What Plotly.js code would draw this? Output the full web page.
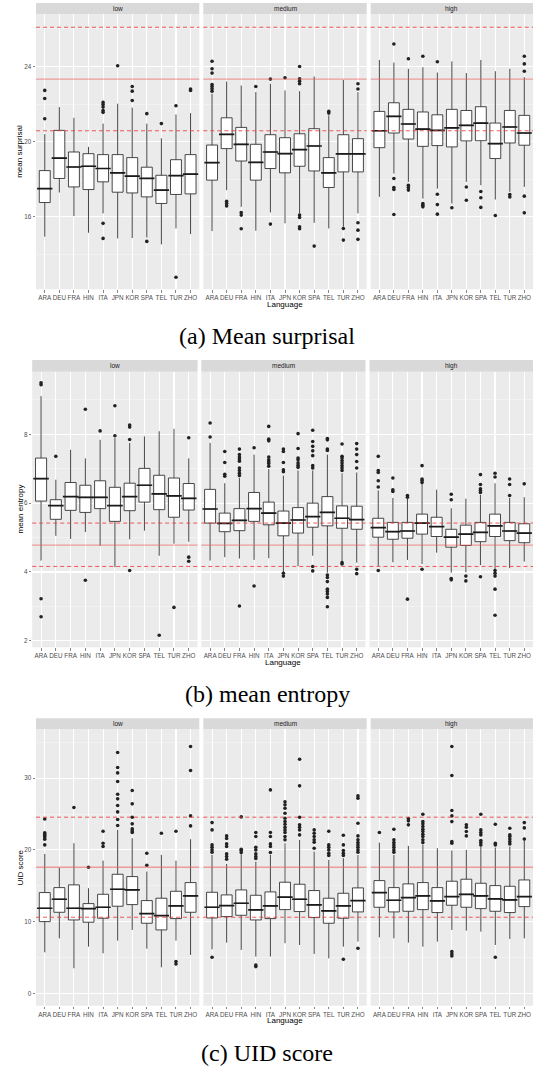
<!DOCTYPE html>
<html><head><meta charset="utf-8">
<script src="https://cdn.plot.ly/plotly-3.0.1.min.js"></script>
<style>html,body{margin:0;padding:0;background:#fff}#chart{width:534px;height:1070px}</style>
</head><body><div id="chart"></div>
<script>
const languages = ['ARA','DEU','FRA','HIN','ITA','JPN','KOR','SPA','TEL','TUR','ZHO'];
const facetNames = ['low','medium','high'];

// ---------- (a) Mean surprisal ----------
const a_refs = [26.09, 23.33, 20.58];
const a_low_lower = [14.94,17.29,16.04,15.15,16.18,14.85,14.87,14.90,14.53,15.38,15.08];
const a_low_q1    = [16.76,18.04,17.59,17.45,17.86,17.31,17.27,17.06,16.71,17.19,17.22];
const a_low_med   = [17.50,19.12,18.65,18.69,18.57,18.34,18.16,18.04,17.42,18.19,18.27];
const a_low_q3    = [18.46,20.60,19.45,19.36,19.31,19.31,19.15,18.64,18.21,19.04,19.31];
const a_low_upper = [20.40,21.84,21.27,19.72,20.96,22.02,21.81,20.96,20.18,21.45,21.52];
const a_low_out   = [[22.73,22.30,21.22],[],[],[],[22.09,21.98,21.84,21.66,21.56,15.65,14.85],[24.04],[22.94,22.69,22.19],[21.49,14.69],[20.96],[21.91,12.78],[22.80,22.73]];

const a_med_lower = [15.24,17.42,16.53,15.26,16.23,15.65,16.18,15.68,15.38,15.47,16.18];
const a_med_q1    = [17.95,19.63,18.97,17.95,18.57,18.34,18.69,18.44,17.56,18.39,18.39];
const a_med_med   = [18.88,20.39,19.86,18.90,19.45,19.36,19.58,19.77,18.34,19.35,19.35];
const a_med_q3    = [19.82,21.27,20.76,19.86,20.37,20.21,20.42,20.69,19.15,20.37,20.16];
const a_med_upper = [22.55,23.20,22.99,22.64,23.08,22.73,22.69,23.47,21.40,23.29,22.64];
const a_med_out   = [[24.28,23.88,23.65,23.04,22.94,22.81,22.69],[16.83,16.71,16.58],[16.23,16.09,15.36],[22.94],[23.33,15.61],[23.40],[24.0,23.35,23.22,23.08,16.09,15.96,15.47,15.36],[14.44],[21.61,21.52],[15.38,14.76],[23.08,22.80,15.68,15.29,14.80]];

const a_high_lower = [17.06,18.30,17.86,16.97,17.50,16.71,17.86,17.68,16.92,17.33,17.59];
const a_high_q1    = [19.68,20.46,20.14,19.75,19.79,19.72,20.04,20.05,19.10,19.93,19.81];
const a_high_med   = [20.58,21.35,20.94,20.67,20.60,20.73,20.87,20.99,19.89,20.78,20.46];
const a_high_q3    = [21.61,22.07,21.72,21.58,21.43,21.72,21.66,21.86,20.99,21.66,21.40];
const a_high_upper = [24.35,24.21,23.88,23.96,23.68,24.27,23.65,24.35,23.75,23.88,23.43];
const a_high_out   = [[],[25.20,18.04,17.56,17.45,16.12],[24.41,17.68,17.56,17.42],[24.55,16.71,16.62,16.53],[24.25,17.20,16.65,16.14],[16.48],[17.59,16.88],[17.35,17.01,16.50],[16.07],[17.19,17.06],[24.55,24.14,23.75,17.10,16.21]];

// ---------- (b) mean entropy ----------
const b_refs = [5.42, 4.78, 4.16];
const b_low_lower = [4.33,5.05,4.96,5.16,4.76,4.14,4.95,5.20,4.47,4.82,4.88];
const b_low_q1    = [6.06,5.53,5.79,5.73,5.84,5.47,5.78,6.03,5.81,5.59,5.80];
const b_low_med   = [6.71,5.93,6.19,6.17,6.17,5.93,6.19,6.52,6.27,6.21,6.14];
const b_low_q3    = [7.31,6.10,6.60,6.52,6.65,6.46,6.58,7.01,6.81,6.73,6.57];
const b_low_upper = [9.11,6.68,7.55,7.30,7.84,7.89,7.75,7.94,8.09,8.16,7.30];
const b_low_out   = [[9.50,9.44,3.22,2.70],[7.36],[],[8.73,3.76],[8.10],[8.83,7.96],[8.27,8.21,7.85,4.04],[],[2.16],[2.97],[7.90,4.43,4.31]];

const b_med_lower = [4.33,4.43,4.39,4.35,4.40,3.98,4.17,4.47,3.98,4.30,4.27];
const b_med_q1    = [5.42,5.17,5.20,5.47,5.37,5.05,5.13,5.30,5.34,5.27,5.24];
const b_med_med   = [5.83,5.41,5.50,5.84,5.71,5.42,5.51,5.61,5.73,5.56,5.52];
const b_med_q3    = [6.40,5.71,5.84,6.31,6.03,5.77,5.87,6.00,6.19,5.92,5.91];
const b_med_upper = [7.75,6.58,6.73,7.41,6.99,6.80,6.95,6.95,7.41,6.87,6.89];
const b_med_out   = [[8.33,7.92],[7.50,7.18,6.84,6.78],[7.57,7.41,7.34,7.28,7.22,7.02,6.95,6.87,6.80,3.01],[7.61,3.59],[8.23,7.86,7.81,7.34,7.26,7.20,7.15,7.07],[7.57,7.50,7.18,6.97,6.91,3.96,3.88],[8.02,7.59,7.31,7.26,7.17,7.10,7.04],[8.12,7.79,7.65,7.52,7.38,7.09,7.02,4.16,4.03],[7.88,7.84,7.57,7.53,3.91,3.84,3.72,3.50,3.43,3.36,3.26,2.99],[7.72,7.36,7.31,7.24,7.17,7.09,7.02,6.95,4.27,4.23],[7.73,7.57,7.41,7.21,7.02,4.08,3.95]];

const b_high_lower = [4.17,4.28,4.35,4.23,4.56,3.98,3.99,4.20,4.08,4.11,4.30];
const b_high_q1    = [5.01,4.95,4.98,5.10,5.03,4.72,4.77,4.88,5.03,4.91,4.85];
const b_high_med   = [5.29,5.17,5.19,5.42,5.32,5.01,5.10,5.15,5.34,5.19,5.13];
const b_high_q3    = [5.56,5.44,5.44,5.68,5.59,5.24,5.36,5.44,5.68,5.44,5.40];
const b_high_upper = [6.37,6.15,6.12,6.56,6.39,5.85,6.13,6.24,6.58,6.15,6.17];
const b_high_out   = [[7.36,6.95,6.89,6.65,6.47,4.04],[6.73,6.39,6.34],[6.22,6.17,3.21],[7.09,6.70,6.66,6.60,4.08],[],[6.26,6.10,3.81,3.77],[3.88,3.74],[6.83,6.54,6.42,6.37,6.31,3.86],[6.87,6.76,4.04,3.96,3.88,3.50,2.74],[6.70,6.54,6.22],[6.56]];

// ---------- (c) UID score ----------
const c_refs = [24.56, 17.59, 10.61];
const c_low_lower = [5.72,7.67,3.49,6.51,5.58,7.35,8.84,6.23,3.63,7.35,5.35];
const c_low_q1    = [10.00,11.30,10.23,9.91,10.47,12.14,12.37,9.77,8.84,10.42,11.30];
const c_low_med   = [11.86,13.12,11.86,11.81,12.00,14.51,14.42,11.12,10.84,12.19,13.58];
const c_low_q3    = [14.05,14.74,15.12,12.51,13.81,16.60,16.28,12.93,13.26,14.23,15.44];
const c_low_upper = [19.44,17.53,20.93,14.65,18.51,22.79,21.63,16.98,19.30,18.51,21.49];
const c_low_out   = [[24.3,22.4,22.2,22.0,21.8,21.5,20.7],[],[25.91],[17.58],[22.60,20.93,20.47],[33.58,31.49,30.74,29.53,27.77,27.12,26.19,25.30,24.23,23.40],[28.28,26.42,24.56,23.63,22.93,22.65,22.42],[19.53,17.86],[22.33],[22.60,4.42,4.09],[34.42,31.07,24.74,23.35]];

const c_med_lower = [6.14,7.07,6.05,5.12,5.12,6.98,6.74,5.49,4.88,6.51,7.21];
const c_med_q1    = [10.51,10.70,10.88,10.23,10.42,11.67,11.40,10.56,9.77,10.47,11.35];
const c_med_med   = [12.00,12.23,12.56,11.63,12.19,13.40,13.12,12.33,11.49,12.19,12.93];
const c_med_q3    = [14.09,13.72,14.42,13.67,14.14,15.49,15.21,14.33,13.26,13.95,14.70];
const c_med_upper = [19.30,18.05,19.40,18.37,19.30,20.93,21.40,19.77,18.60,18.84,19.30];
const c_med_out   = [[23.81,22.79,20.70,20.37,20.0,19.67,5.02],[21.95,21.58,20.84,20.47,19.44,19.07,18.70],[24.60,20.09,19.91,19.63],[22.42,21.86,20.37,20.0,19.44,19.07,18.79,3.95,3.72],[28.37,22.42,21.86,20.84,20.47,19.63],[26.70,26.28,25.81,25.12,24.42,23.95,23.58,23.16,22.79,22.42,21.86,21.40],[32.65,28.93,24.56,23.49,23.16,22.79,22.09],[22.79,22.33,21.86,21.40,21.07,20.23],[22.60,20.70,20.37,20.0,19.53,19.21],[22.05,20.70,19.91,19.53,19.21,4.74],[27.53,27.21,23.72,21.95,21.40,21.02,20.70,20.37,20.0,19.67,6.28]];

const c_high_lower = [7.81,7.67,7.07,6.51,7.21,8.84,8.74,8.60,6.74,7.58,7.67];
const c_high_q1    = [12.00,11.35,11.44,11.67,11.26,12.28,12.00,11.81,11.44,11.26,12.09];
const c_high_med   = [14.05,12.98,13.35,13.58,12.88,13.49,13.81,13.58,13.16,13.02,13.49];
const c_high_q3    = [15.72,14.74,15.26,15.44,14.74,15.63,15.91,15.35,15.02,14.93,15.81];
const c_high_upper = [21.02,19.30,20.56,20.70,20.23,19.91,20.00,20.47,20.33,20.47,21.40];
const c_high_out   = [[22.42],[22.88,21.40,21.02,20.70,20.37,20.0,19.67],[24.37,24.05,23.49],[24.98,23.95,23.63,23.26,22.88,22.56,22.19,21.86,21.40,21.02],[],[34.42,30.37,25.49,24.74,23.95,21.16,20.93,5.81,5.49,5.21],[23.49,23.16,22.56,21.95],[24.98,22.79,22.42,22.09,21.30,21.02,20.70],[23.58,20.93,20.70,5.02],[23.02,22.09,21.86,21.53,21.16,20.84],[23.81,23.07,21.53]];

// ---------- layout geometry (pixels) ----------
const W = 534, H = 1070;
const colsAC = [[36,199.3],[203.3,366.7],[370.7,533]];
const colsB  = [[32.2,197.6],[201.3,365.5],[369.5,533]];

const panels = [
  {ytitle:'mean surprisal', caption:'(a) Mean surprisal', refs:a_refs, yrange:[12.14,26.78], dtick:4, minor:2,
   stripTop:3, plotTop:14.3, plotBot:289.3, cols:colsAC,
   facets:[[a_low_lower,a_low_q1,a_low_med,a_low_q3,a_low_upper,a_low_out],
           [a_med_lower,a_med_q1,a_med_med,a_med_q3,a_med_upper,a_med_out],
           [a_high_lower,a_high_q1,a_high_med,a_high_q3,a_high_upper,a_high_out]]},
  {ytitle:'mean entropy', caption:'(b) mean entropy', refs:b_refs, yrange:[1.81,9.82], dtick:2, minor:1,
   stripTop:360, plotTop:371.7, plotBot:647.3, cols:colsB,
   facets:[[b_low_lower,b_low_q1,b_low_med,b_low_q3,b_low_upper,b_low_out],
           [b_med_lower,b_med_q1,b_med_med,b_med_q3,b_med_upper,b_med_out],
           [b_high_lower,b_high_q1,b_high_med,b_high_q3,b_high_upper,b_high_out]]},
  {ytitle:'UID score', caption:'(c) UID score', refs:c_refs, yrange:[-1.73,36.82], dtick:10, minor:5,
   stripTop:718.3, plotTop:729.3, plotBot:1005.7, cols:colsAC,
   facets:[[c_low_lower,c_low_q1,c_low_med,c_low_q3,c_low_upper,c_low_out],
           [c_med_lower,c_med_q1,c_med_med,c_med_q3,c_med_upper,c_med_out],
           [c_high_lower,c_high_q1,c_high_med,c_high_q3,c_high_upper,c_high_out]]}
];

const FONT = 'Liberation Sans, Arial, sans-serif';
const traces = [], shapes = [], annotations = [];
const layout = {
  width: W, height: H, margin:{l:0,r:0,t:0,b:0},
  paper_bgcolor:'#FFFFFF', plot_bgcolor:'#EBEBEB',
  showlegend:false, hovermode:false,
  font:{family:FONT, size:7, color:'#4D4D4D'}
};

let k = 0;
panels.forEach((p) => {
  p.facets.forEach((f, fi) => {
    k += 1;
    const sfx = k === 1 ? '' : String(k);
    const xa = 'x' + sfx, ya = 'y' + sfx;
    const [c0, c1] = p.cols[fi];
    const catPx = (c1 - c0) / 11.2;
    layout['xaxis' + sfx] = {
      domain:[c0 / W, c1 / W], anchor: ya, type:'category',
      categoryorder:'array', categoryarray: languages,
      range:[-0.6, 10.6], showgrid:true, gridcolor:'#FFFFFF', gridwidth:1.1,
      zeroline:false, showline:false, ticks:'outside', ticklen:2.5, tickwidth:0.6, tickcolor:'#333333',
      tickangle:0, automargin:false,
      tickfont:{family:FONT, size:6.3, color:'#4D4D4D'}, fixedrange:true
    };
    layout['yaxis' + sfx] = {
      domain:[1 - p.plotBot / H, 1 - p.plotTop / H], anchor: xa,
      range: p.yrange, tick0:0, dtick:p.dtick, showgrid:true, gridcolor:'#FFFFFF', gridwidth:1.1,
      minor:{dtick:p.minor, tick0:0, showgrid:true, gridcolor:'#F6F6F6', gridwidth:0.6, ticks:''},
      zeroline:false, showline:false, automargin:false,
      ticks: fi === 0 ? 'outside' : '', ticklen:2.5, tickwidth:0.6, tickcolor:'#333333',
      showticklabels: fi === 0, tickfont:{family:FONT, size:6.3, color:'#4D4D4D'}, fixedrange:true
    };
    const [lo, q1, med, q3, hi, out] = f;
    traces.push({
      type:'box', xaxis:xa, yaxis:ya, x:languages,
      lowerfence:lo, q1:q1, median:med, q3:q3, upperfence:hi,
      width:0.75, whiskerwidth:0, boxpoints:false,
      fillcolor:'#FFFFFF', line:{color:'#333333', width:0.9}
    });
    traces.push({
      type:'scatter', mode:'markers', xaxis:xa, yaxis:ya, x:languages, y:med,
      marker:{symbol:'line-ew', size:catPx * 0.75, color:'#1A1A1A', line:{color:'#1A1A1A', width:1.7}}
    });
    const ox = [], oy = [];
    out.forEach((vals, i) => vals.forEach(v => { ox.push(languages[i]); oy.push(v); }));
    traces.push({
      type:'scatter', mode:'markers', xaxis:xa, yaxis:ya, x:ox, y:oy,
      marker:{size:3.6, color:'#222222'}
    });
    // reference lines
    const xr = xa + ' domain';
    const lineStyles = [
      {color:'rgba(240,60,60,0.85)', width:1, dash:'4px,3px'},
      {color:'rgba(240,90,90,0.55)', width:1.4, dash:'solid'},
      {color:'rgba(240,60,60,0.85)', width:1, dash:'4px,3px'}
    ];
    p.refs.forEach((r, ri) => {
      shapes.push({type:'line', xref:xr, yref:ya, x0:0, x1:1, y0:r, y1:r, line:lineStyles[ri], layer:'above'});
    });
    // strip
    shapes.push({type:'rect', xref:'paper', yref:'paper', x0:c0 / W, x1:c1 / W,
      y0:1 - p.plotTop / H, y1:1 - p.stripTop / H, fillcolor:'#D9D9D9', line:{width:0}, layer:'below'});
    annotations.push({xref:'paper', yref:'paper', x:(c0 + c1) / 2 / W, y:1 - (p.stripTop + p.plotTop) / 2 / H,
      text:facetNames[fi], showarrow:false, xanchor:'center', yanchor:'middle',
      font:{family:FONT, size:6.5, color:'#1A1A1A'}});
  });
  // y-axis title
  annotations.push({xref:'paper', yref:'paper', x:20 / W, y:1 - (p.plotTop + p.plotBot) / 2 / H,
    text:p.ytitle, textangle:-90, showarrow:false, xanchor:'center', yanchor:'middle',
    font:{family:FONT, size:8, color:'#000000'}});
  // x-axis title
  annotations.push({xref:'paper', yref:'paper', x:(p.cols[0][0] + p.cols[2][1]) / 2 / W, y:1 - (p.plotBot + 15) / H,
    text:'Language', showarrow:false, xanchor:'center', yanchor:'middle',
    font:{family:FONT, size:8, color:'#000000'}});
  // caption
  annotations.push({xref:'paper', yref:'paper', x:267 / W, y:1 - (p.plotBot + 47) / H,
    text:p.caption, showarrow:false, xanchor:'center', yanchor:'middle',
    font:{family:'Liberation Serif, Times New Roman, serif', size:24, color:'#000000'}});
});

layout.shapes = shapes;
layout.annotations = annotations;
Plotly.newPlot('chart', traces, layout, {staticPlot:true, displayModeBar:false});
</script></body></html>
